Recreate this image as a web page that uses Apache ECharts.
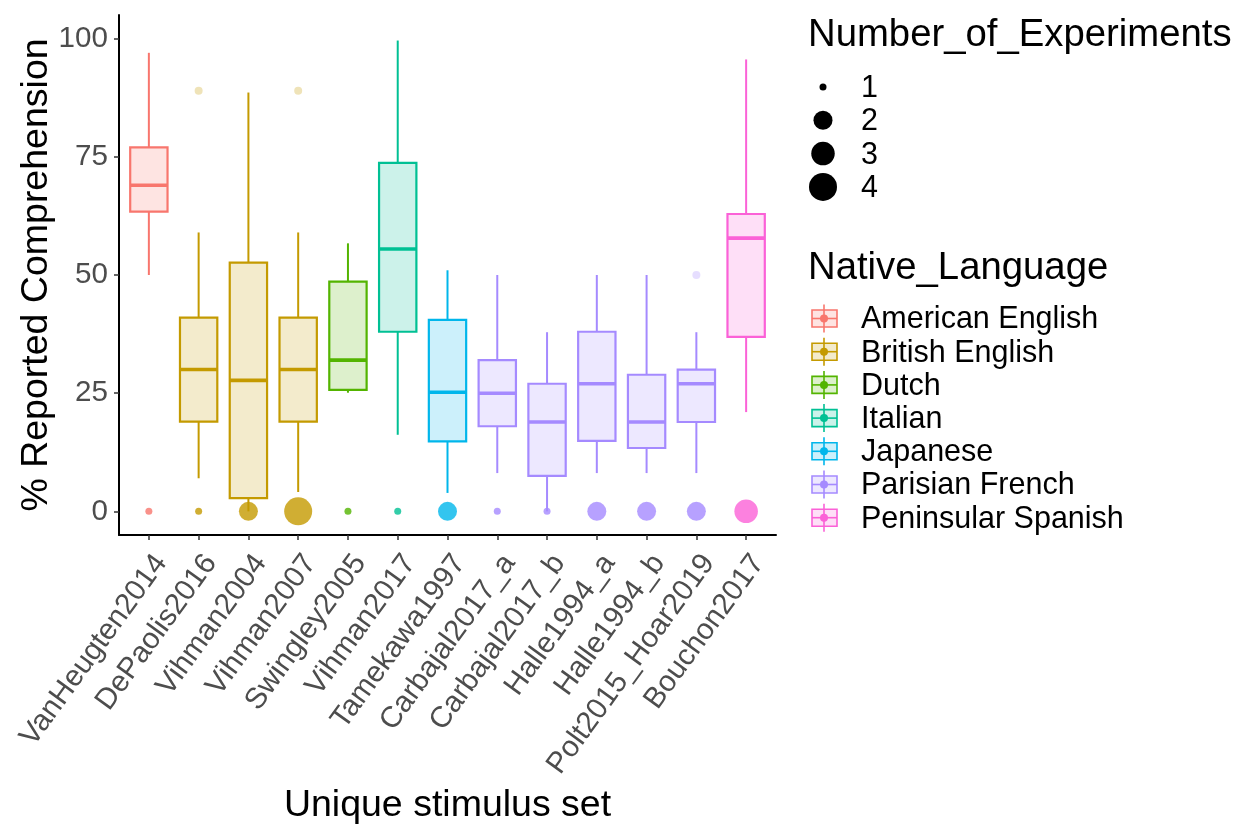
<!DOCTYPE html>
<html>
<head>
<meta charset="utf-8">
<script src="https://cdn.jsdelivr.net/npm/echarts@6/dist/echarts.min.js"></script>
<style>
html,body{margin:0;padding:0;background:#fff;}
#chart{width:1245px;height:825px;}
</style>
</head>
<body>
<div id="chart"></div>
<script>
// ---- data ----
const categories = ['VanHeugten2014','DePaolis2016','Vihman2004','Vihman2007','Swingley2005','Vihman2017','Tamekawa1997','Carbajal2017_a','Carbajal2017_b','Halle1994_a','Halle1994_b','Polt2015_Hoar2019','Bouchon2017'];
const nativeLanguage = ['American English','British English','British English','British English','Dutch','Italian','Japanese','Parisian French','Parisian French','Parisian French','Parisian French','Parisian French','Peninsular Spanish'];
const whiskerLow  = [50, 7, 0, 4.1, 25.1, 16.2, 3.9, 8.1, 0, 8.1, 8.1, 8.1, 21];
const q1          = [63.4, 19, 2.8, 19, 25.7, 38, 14.8, 18, 7.5, 14.9, 13.4, 18.9, 36.9];
const median      = [69, 30, 27.7, 30, 32, 55.5, 25.2, 25, 18.9, 27, 18.9, 27, 57.8];
const q3          = [77, 41, 52.6, 41, 48.6, 73.7, 40.5, 32, 27, 38, 28.9, 30, 62.9];
const whiskerHigh = [97, 59, 88.6, 59, 56.7, 99.6, 51, 50, 37.9, 50, 50, 37.9, 95.6];
const outlierCategory = ['DePaolis2016','Vihman2007','Polt2015_Hoar2019'];
const outlierValue    = [89, 89, 50];
const numberOfExperiments = [1, 1, 2, 4, 1, 1, 2, 1, 1, 2, 2, 2, 3];
const languages = ['American English','British English','Dutch','Italian','Japanese','Parisian French','Peninsular Spanish'];
const languageColors = ['#F8766D','#C49A00','#53B400','#00C094','#00B6EB','#A58AFF','#FB61D7'];
const yTicks = [0, 25, 50, 75, 100];
const sizeLevels = [1, 2, 3, 4];
const sizePx = {1: 7, 2: 19, 3: 23.5, 4: 28};

// ---- helpers ----
function rgba(hex, a) {
  const n = parseInt(hex.slice(1), 16);
  return 'rgba(' + ((n >> 16) & 255) + ',' + ((n >> 8) & 255) + ',' + (n & 255) + ',' + a + ')';
}
const FONT = '"Liberation Sans", Arial, Helvetica, sans-serif';
const X_MIN = 0.4, X_MAX = 13.6;
// axis-end positions carry empty labels/ticks that ECharts drops as min/max labels
const xTickValues = [X_MIN].concat(categories.map((c, i) => i + 1), [X_MAX]);

function colorOf(lang) { return languageColors[languages.indexOf(lang)]; }

const boxSeries = languages.map(function (lang, li) {
  const color = languageColors[li];
  const data = [];
  categories.forEach(function (c, i) {
    if (nativeLanguage[i] === lang) {
      data.push([i + 1, whiskerLow[i], q1[i], median[i], q3[i], whiskerHigh[i]]);
    }
  });
  return {
    name: lang,
    type: 'custom',
    data: data,
    encode: {x: 0, y: [1, 2, 3, 4, 5]},
    silent: true,
    clip: false,
    z: 2,
    renderItem: function (params, api) {
      const x = api.value(0);
      const pLow = api.coord([x, api.value(1)]);
      const pQ1 = api.coord([x, api.value(2)]);
      const pMed = api.coord([x, api.value(3)]);
      const pQ3 = api.coord([x, api.value(4)]);
      const pHigh = api.coord([x, api.value(5)]);
      const w = api.size([0.75, 0])[0];
      const cx = pMed[0];
      return {
        type: 'group',
        children: [
          {type: 'line', shape: {x1: cx, y1: pHigh[1], x2: cx, y2: pQ3[1]}, style: {stroke: color, lineWidth: 2}},
          {type: 'line', shape: {x1: cx, y1: pQ1[1], x2: cx, y2: pLow[1]}, style: {stroke: color, lineWidth: 2}},
          {type: 'rect', shape: {x: cx - w / 2, y: pQ3[1], width: w, height: pQ1[1] - pQ3[1]},
           style: {fill: rgba(color, 0.2), stroke: color, lineWidth: 2.2}},
          {type: 'line', shape: {x1: cx - w / 2, y1: pMed[1], x2: cx + w / 2, y2: pMed[1]}, style: {stroke: color, lineWidth: 3.6}}
        ]
      };
    }
  };
});

const outlierSeries = {
  type: 'scatter',
  name: 'outliers',
  z: 3,
  silent: true,
  symbolSize: 8,
  data: outlierCategory.map(function (c, k) {
    const i = categories.indexOf(c);
    return {value: [i + 1, outlierValue[k]], itemStyle: {color: rgba(colorOf(nativeLanguage[i]), 0.35)}};
  })
};

const sizeSeries = {
  type: 'scatter',
  name: 'Number_of_Experiments',
  z: 4,
  silent: true,
  symbolSize: function (val) { return sizePx[val[2]]; },
  data: categories.map(function (c, i) {
    return {value: [i + 1, 0, numberOfExperiments[i]], itemStyle: {color: colorOf(nativeLanguage[i])}};
  })
};

// ---- legends (graphic) ----
const graphics = [];
graphics.push({type: 'text', left: 808, top: 16, style: {text: 'Number_of_Experiments', font: '38.3px ' + FONT, fill: '#000'}});
sizeLevels.forEach(function (lv, k) {
  const cy = 87 + k * 33.3;
  graphics.push({type: 'circle', shape: {cx: 823, cy: cy, r: sizePx[lv] / 2}, style: {fill: '#000'}});
  graphics.push({type: 'text', x: 861, y: cy + 1.5, style: {text: String(lv), font: '30.5px ' + FONT, fill: '#000', verticalAlign: 'middle', align: 'left'}});
});
graphics.push({type: 'text', left: 808, top: 249, style: {text: 'Native_Language', font: '38.3px ' + FONT, fill: '#000'}});
languages.forEach(function (lang, k) {
  const cy = 318.5 + k * 33.2;
  const c = languageColors[k];
  graphics.push({type: 'line', shape: {x1: 824, y1: cy - 14, x2: 824, y2: cy + 14}, style: {stroke: c, lineWidth: 1.6}});
  graphics.push({type: 'rect', shape: {x: 812, y: cy - 8.5, width: 25, height: 17}, style: {fill: rgba(c, 0.2), stroke: c, lineWidth: 1.6}});
  graphics.push({type: 'line', shape: {x1: 812, y1: cy, x2: 837, y2: cy}, style: {stroke: c, lineWidth: 1.6}});
  graphics.push({type: 'circle', shape: {cx: 824, cy: cy, r: 4}, style: {fill: c}});
  graphics.push({type: 'text', x: 861, y: cy + 1.5, style: {text: lang, font: '30.5px ' + FONT, fill: '#000', verticalAlign: 'middle', align: 'left'}});
});

const chart = echarts.init(document.getElementById('chart'), null, {renderer: 'canvas'});
chart.setOption({
  backgroundColor: '#ffffff',
  animation: false,
  textStyle: {fontFamily: FONT},
  grid: {left: 119, right: 469, top: 15, bottom: 290, containLabel: false, outerBoundsMode: 'none'},
  xAxis: {
    type: 'value',
    min: X_MIN,
    max: X_MAX,
    name: 'Unique stimulus set',
    nameLocation: 'middle',
    nameGap: 250,
    nameTextStyle: {fontSize: 37.5, color: '#000', fontFamily: FONT},
    splitLine: {show: false},
    axisLine: {show: true, onZero: false, lineStyle: {color: '#000', width: 2}},
    axisTick: {show: true, length: 5, customValues: xTickValues, lineStyle: {color: '#333', width: 1.5}},
    axisLabel: {
      customValues: xTickValues,
      showMinLabel: false,
      showMaxLabel: false,
      rotate: 54,
      margin: 14,
      fontSize: 29.6,
      color: '#4D4D4D',
      fontFamily: FONT,
      verticalAlign: 'top',
      lineHeight: 30,
      hideOverlap: false,
      formatter: function (v) {
        const k = Math.round(v);
        return (Math.abs(v - k) < 1e-6 && categories[k - 1]) ? categories[k - 1] : '';
      }
    }
  },
  yAxis: {
    type: 'value',
    min: -5,
    max: 105,
    name: '% Reported Comprehension',
    nameLocation: 'middle',
    nameRotate: 90,
    nameGap: 63,
    nameMoveOverlap: false,
    nameTextStyle: {fontSize: 37.5, color: '#000', fontFamily: FONT},
    splitLine: {show: false},
    axisLine: {show: true, onZero: false, lineStyle: {color: '#000', width: 2}},
    axisTick: {show: true, length: 5, customValues: yTicks, lineStyle: {color: '#333', width: 1.5}},
    axisLabel: {customValues: yTicks, margin: 11, fontSize: 29.6, color: '#4D4D4D', fontFamily: FONT}
  },
  series: boxSeries.concat([outlierSeries, sizeSeries]),
  graphic: graphics
});
</script>
</body>
</html>
